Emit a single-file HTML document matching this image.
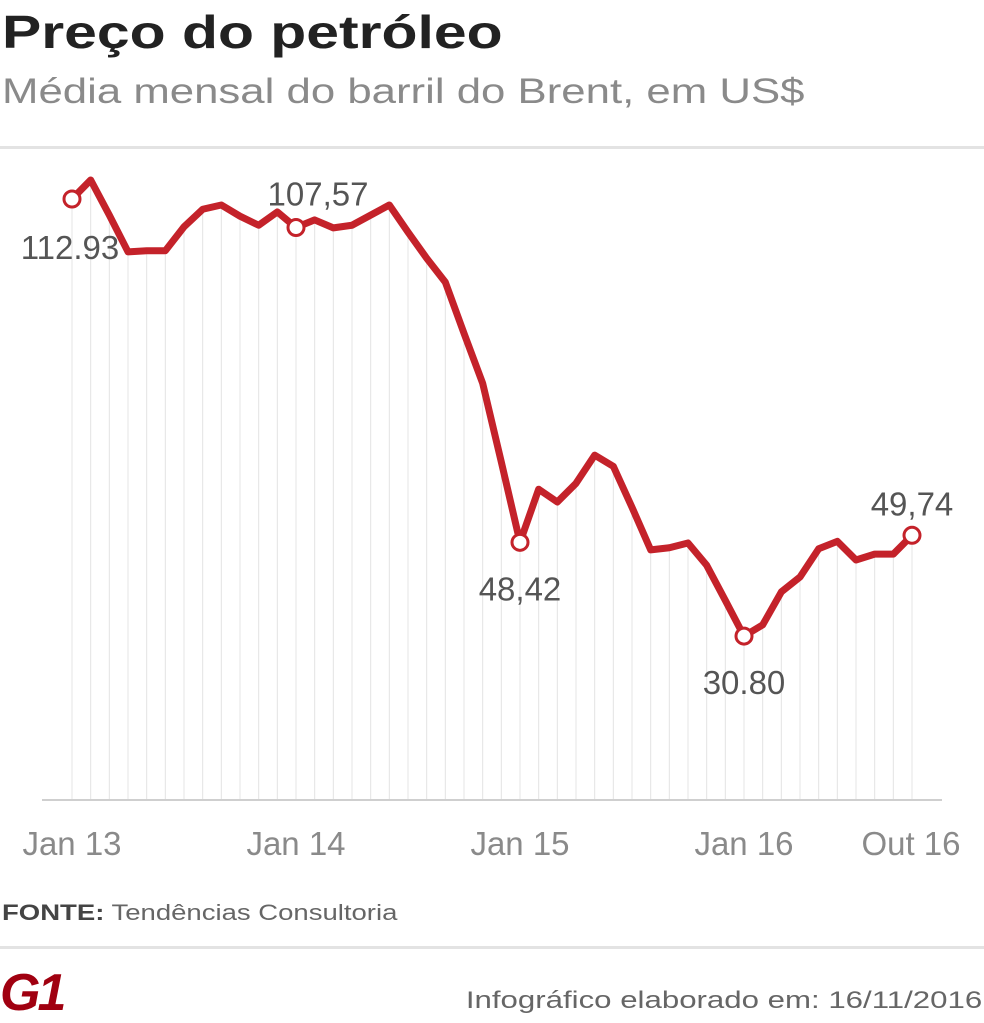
<!DOCTYPE html>
<html><head><meta charset="utf-8">
<style>
body{margin:0;width:984px;height:1022px;background:#fff;font-family:"Liberation Sans",sans-serif;overflow:hidden;position:relative}
.t{position:absolute;white-space:nowrap}
</style></head><body>
<div class="t" style="left:2px;top:5px;font-size:46px;font-weight:bold;color:#222;transform:scaleX(1.28);transform-origin:left top">Preço do petróleo</div>
<div class="t" style="left:2px;top:72px;font-size:35px;color:#8a8a8a;transform:scaleX(1.25);transform-origin:left top">Média mensal do barril do Brent, em US$</div>
<div style="position:absolute;left:0;top:146px;width:984px;height:3px;background:#e3e3e3"></div>
<svg id="chart" width="984" height="900" style="position:absolute;left:0;top:0"></svg>
<div class="t" style="left:2px;top:900px;font-size:22px;color:#666;transform:scaleX(1.25);transform-origin:left top"><b style="color:#444">FONTE:</b> Tendências Consultoria</div>
<div style="position:absolute;left:0;top:946px;width:984px;height:3px;background:#e3e3e3"></div>
<div class="t" style="left:0;top:963px;font-size:52px;font-weight:bold;font-style:italic;color:#a00010;letter-spacing:-3px">G1</div>
<div class="t" style="right:2px;top:987px;font-size:24px;color:#666;transform:scaleX(1.3);transform-origin:right top">Infográfico elaborado em: 16/11/2016</div>
<script>
const values=[112.93,116.5,109.9,103.0,103.2,103.2,107.7,111.0,111.8,109.7,108.0,110.5,107.57,109.0,107.5,108.0,109.9,111.8,106.7,101.8,97.3,87.7,78.3,63.5,48.42,58.4,56.0,59.5,64.8,62.7,55.0,47.0,47.4,48.3,44.1,37.5,30.8,32.9,39.1,41.9,47.2,48.6,45.1,46.2,46.2,49.74];
const tickIdx=[0,12,24,36,45];
const tickLabels=["Jan 13","Jan 14","Jan 15","Jan 16","Out 16"];
const markIdx=[0,12,24,36,45];
const markLabels=["112.93","107,57","48,42","30.80","49,74"];
const ns="http://www.w3.org/2000/svg";
const svg=document.getElementById('chart');
const x=i=>72+i*(912-72)/45;
const y=v=>800-v*(800-199)/112.93;
function mk(t,a){const e=document.createElementNS(ns,t);for(const k in a)e.setAttribute(k,a[k]);svg.appendChild(e);return e;}
values.forEach((v,i)=>{const g=mk('line',{x1:x(i),x2:x(i),y1:y(v),y2:800,stroke:'#e4e4e4','stroke-width':1});

});
const ax=mk('line',{x1:42,x2:942,y1:800,y2:800,stroke:'#cfcfcf','stroke-width':2});


const p=mk('polyline',{points:values.map((v,i)=>x(i)+','+y(v)).join(' '),fill:'none',stroke:'#c4222a','stroke-width':7,'stroke-linejoin':'round'});


tickIdx.forEach((idx,k)=>{const t=mk('text',{x:k==4?911:x(idx),y:855,'text-anchor':'middle','font-size':33,fill:'#8a8a8a','font-family':'Liberation Sans'});t.textContent=tickLabels[k];

});
markIdx.forEach((idx,k)=>{const c=mk('circle',{cx:x(idx),cy:y(values[idx]),r:8,fill:'#fff',stroke:'#c4222a','stroke-width':3});


let tx=x(idx),ty=y(values[idx]);
if(k==0){tx=70;ty+=60;}
else if(k==1){tx=x(idx)+22;ty-=22;}
else if(k==4){tx=x(idx);ty-=20;}
else ty+=58;
const t=mk('text',{x:tx,y:ty,'text-anchor':'middle','font-size':33,fill:'#555','font-family':'Liberation Sans'});t.textContent=markLabels[k];

});
</script>
</body></html>
